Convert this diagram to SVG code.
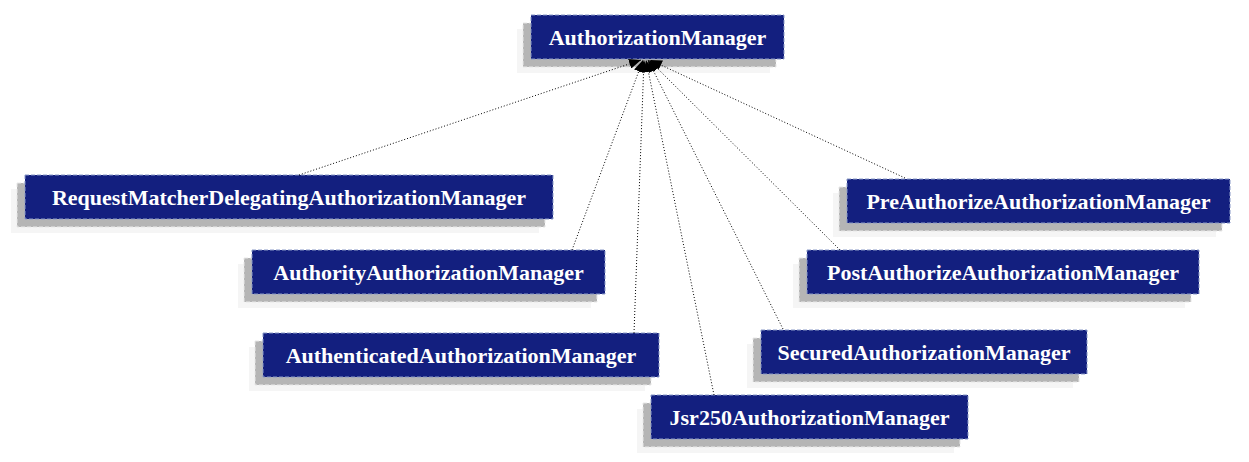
<svg xmlns="http://www.w3.org/2000/svg" width="1249" height="462" viewBox="0 0 1249 462">
<style>
.halo{fill:#f5f5f5}
.sh{fill:#b5b5b5;stroke:#e8e8e8;stroke-width:1;stroke-dasharray:4,2}
.box{fill:#131f7f;stroke:#8a9ac8;stroke-width:1;stroke-dasharray:4,2}
.lbl{font-family:"Liberation Serif","Times New Roman",serif;font-weight:bold;font-size:22px;fill:#ffffff;text-anchor:middle}
.edge{fill:none;stroke:#000;stroke-width:1;stroke-dasharray:1,2}
</style>
<defs>
<marker id="arr" markerWidth="12" markerHeight="10" refX="12" refY="5" orient="auto" markerUnits="userSpaceOnUse">
<path d="M0,0 L12,5 L0,10 Z" fill="#000"/>
</marker>
</defs>
<rect width="1249" height="462" fill="#fff"/>
<g id="n-AuthorizationManager">
<rect class="halo" x="517" y="29" width="253" height="44"/>
<rect class="sh" x="523" y="23" width="253" height="44"/>
<rect class="box" x="531" y="15" width="253" height="44"/>
<text class="lbl" x="657.5" y="45">AuthorizationManager</text>
</g>
<g id="n-RequestMatcherDelegatingAuthorizationManager">
<rect class="halo" x="11" y="189" width="528" height="44"/>
<rect class="sh" x="17" y="183" width="528" height="44"/>
<rect class="box" x="25" y="175" width="528" height="44"/>
<text class="lbl" x="289" y="205">RequestMatcherDelegatingAuthorizationManager</text>
</g>
<g id="n-AuthorityAuthorizationManager">
<rect class="halo" x="238" y="264" width="353" height="44"/>
<rect class="sh" x="244" y="258" width="353" height="44"/>
<rect class="box" x="252" y="250" width="353" height="44"/>
<text class="lbl" x="428.5" y="280">AuthorityAuthorizationManager</text>
</g>
<g id="n-AuthenticatedAuthorizationManager">
<rect class="halo" x="249" y="347" width="396" height="44"/>
<rect class="sh" x="255" y="341" width="396" height="44"/>
<rect class="box" x="263" y="333" width="396" height="44"/>
<text class="lbl" x="461" y="363">AuthenticatedAuthorizationManager</text>
</g>
<g id="n-Jsr250AuthorizationManager">
<rect class="halo" x="637" y="409" width="317" height="44"/>
<rect class="sh" x="643" y="403" width="317" height="44"/>
<rect class="box" x="651" y="395" width="317" height="44"/>
<text class="lbl" x="809.5" y="425">Jsr250AuthorizationManager</text>
</g>
<g id="n-SecuredAuthorizationManager">
<rect class="halo" x="747" y="344" width="326" height="44"/>
<rect class="sh" x="753" y="338" width="326" height="44"/>
<rect class="box" x="761" y="330" width="326" height="44"/>
<text class="lbl" x="924" y="360">SecuredAuthorizationManager</text>
</g>
<g id="n-PostAuthorizeAuthorizationManager">
<rect class="halo" x="793" y="264" width="392" height="44"/>
<rect class="sh" x="799" y="258" width="392" height="44"/>
<rect class="box" x="807" y="250" width="392" height="44"/>
<text class="lbl" x="1003" y="280">PostAuthorizeAuthorizationManager</text>
</g>
<g id="n-PreAuthorizeAuthorizationManager">
<rect class="halo" x="833" y="193" width="383" height="44"/>
<rect class="sh" x="839" y="187" width="383" height="44"/>
<rect class="box" x="847" y="179" width="383" height="44"/>
<text class="lbl" x="1038.5" y="209">PreAuthorizeAuthorizationManager</text>
</g>
<g id="connectors">
<line class="edge" x1="299" y1="175" x2="641" y2="60" marker-end="url(#arr)"/>
<line class="edge" x1="572" y1="250" x2="643" y2="60" marker-end="url(#arr)"/>
<line class="edge" x1="634" y1="333" x2="644" y2="60" marker-end="url(#arr)"/>
<line class="edge" x1="714" y1="395" x2="646" y2="60" marker-end="url(#arr)"/>
<line class="edge" x1="783" y1="329" x2="648" y2="60" marker-end="url(#arr)"/>
<line class="edge" x1="840" y1="250" x2="649" y2="60" marker-end="url(#arr)"/>
<line class="edge" x1="905" y1="178" x2="650" y2="60" marker-end="url(#arr)"/>
</g>
</svg>
